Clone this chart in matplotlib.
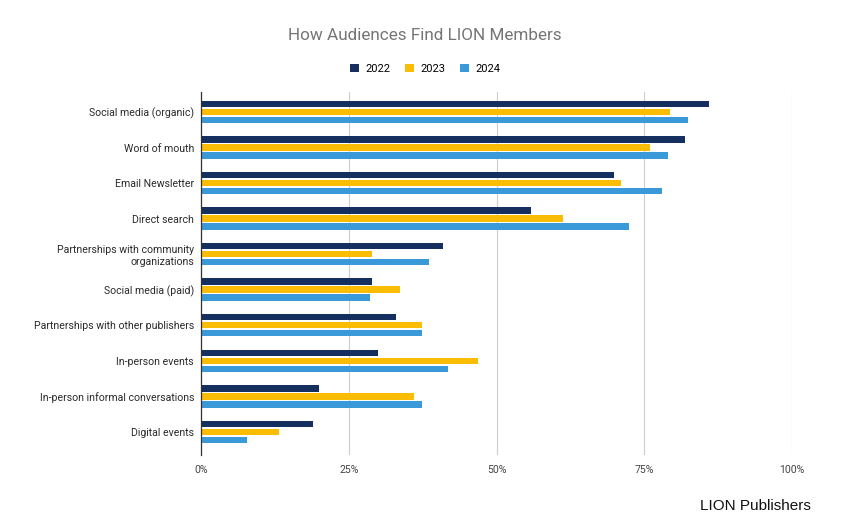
import matplotlib
matplotlib.use("Agg")
import matplotlib.pyplot as plt
import numpy as np
from matplotlib.ticker import FuncFormatter
from matplotlib.patches import Patch

categories = [
    "Social media (organic)",
    "Word of mouth",
    "Email Newsletter",
    "Direct search",
    "Partnerships with community\norganizations",
    "Social media (paid)",
    "Partnerships with other publishers",
    "In-person events",
    "In-person informal conversations",
    "Digital events",
]
series_names = ["2022", "2023", "2024"]
v2022 = [86.0, 81.9, 69.9, 55.9, 41.0, 29.0, 32.9, 30.0, 19.9, 18.9]
v2023 = [79.4, 75.9, 71.1, 61.3, 28.9, 33.7, 37.3, 46.9, 36.0, 13.2]
v2024 = [82.3, 79.0, 77.9, 72.4, 38.5, 28.5, 37.3, 41.7, 37.3, 7.7]
xticks = [0, 25, 50, 75, 100]

colors = ["#15305e", "#fbbc04", "#3a9ad9"]

plt.rcParams['font.family'] = ['Roboto', 'DejaVu Sans']

fig = plt.figure(figsize=(8.5, 5.26), dpi=100)
ax = fig.add_axes([0.2365, 0.135, 0.6955, 0.69])

y = np.arange(len(categories))
h = 0.18
off = 0.225
for i, (vals, c) in enumerate(zip([v2022, v2023, v2024], colors)):
    ax.barh(y + (i - 1) * off, vals, height=h, color=c, zorder=3,
            label=series_names[i])

ax.set_xlim(0, 100)
ax.set_ylim(len(categories) - 1 + 0.65, -0.56)
ax.set_yticks(y)
ax.set_yticklabels(categories, fontsize=7.6, color="#2a2a2a")
ax.set_xticks(xticks)
ax.xaxis.set_major_formatter(FuncFormatter(lambda v, p: f"{int(v)}%"))
ax.tick_params(axis='x', labelsize=7.6, colors="#444444", length=0, pad=7)
ax.tick_params(axis='y', length=0, pad=5)
ax.grid(axis='x', color="#cccccc", linewidth=0.8, zorder=0)
for s in ['top', 'right', 'bottom']:
    ax.spines[s].set_visible(False)
ax.spines['left'].set_color("#333333")
ax.spines['left'].set_linewidth(0.9)
ax.spines['left'].set_zorder(4)

fig.text(0.5, 0.932, "How Audiences Find LION Members", ha='center', va='center',
         fontsize=12.3, color="#757575")

handles = [Patch(facecolor=c, edgecolor='none') for c in colors]
fig.legend(handles, series_names, loc='center', bbox_to_anchor=(0.5, 0.869),
           ncol=3, frameon=False, fontsize=8, handlelength=0.8, handleheight=0.8,
           handletextpad=0.6, columnspacing=1.3)

fig.text(0.954, 0.038, "LION Publishers", ha='right', va='center', fontsize=11,
         color="#111111", family=['Liberation Sans', 'DejaVu Sans'])

fig.savefig("out.png", dpi=100, facecolor="white")
